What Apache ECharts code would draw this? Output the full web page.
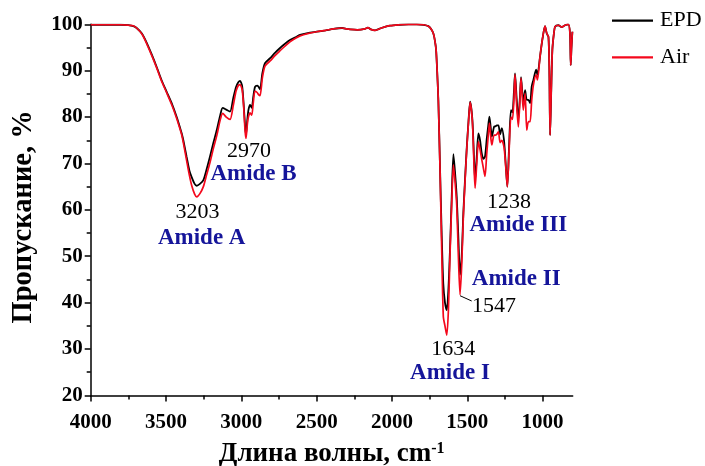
<!DOCTYPE html>
<html>
<head>
<meta charset="utf-8">
<script src="https://cdn.jsdelivr.net/npm/echarts@6/dist/echarts.min.js"></script>
<style>
  html, body { margin: 0; padding: 0; background: #fff; }
  #chart { width: 705px; height: 466px; }
</style>
</head>
<body>
<div id="chart"></div>
<script>
// FTIR spectra: wavenumber (cm-1) and transmittance (%) of the two samples
const wavenumber = [
  4000, 3900, 3800, 3750, 3717, 3695, 3660, 3628, 3595, 3562, 3530, 3495, 3460, 3429, 3405, 3396,
  3385, 3363, 3345, 3329, 3310, 3296, 3275, 3252, 3230, 3208, 3185, 3163, 3140, 3124, 3100, 3075,
  3053, 3035, 3020, 3009, 2995, 2985, 2975, 2969, 2960, 2953, 2942, 2931, 2920, 2909, 2895, 2887,
  2876, 2860, 2843, 2809, 2775, 2743, 2710, 2677, 2640, 2610, 2560, 2500, 2440, 2389, 2330, 2300,
  2278, 2230, 2180, 2160, 2140, 2112, 2070, 2013, 1950, 1890, 1835, 1790, 1758, 1740, 1725, 1715,
  1707, 1700, 1692, 1681, 1670, 1659, 1648, 1636, 1625, 1614, 1603, 1592, 1581, 1570, 1559, 1548,
  1537, 1526, 1515, 1503, 1492, 1481, 1466, 1455, 1448, 1437, 1426, 1415, 1404, 1393, 1382, 1371,
  1362, 1353, 1345, 1337, 1322, 1313, 1304, 1293, 1282, 1271, 1256, 1245, 1234, 1222, 1210, 1200,
  1190, 1183, 1172, 1161, 1150, 1143, 1128, 1116, 1105, 1094, 1083, 1072, 1061, 1043, 1034, 1017,
  1000, 984, 972, 961, 955, 950, 943, 935, 925, 917, 895, 873, 851, 829, 818, 813,
  808, 802
];

const transEPD = [
  99.9, 99.9, 99.9, 99.8, 99.6, 99.2, 98.0, 96.0, 93.5, 90.8, 88.0, 85.4, 82.8, 80.0, 77.5, 76.5,
  75.0, 71.4, 68.5, 67.0, 65.6, 65.2, 65.6, 66.4, 68.8, 71.5, 74.5, 77.2, 80.4, 82.0, 81.6, 81.2,
  84.2, 86.5, 87.5, 87.8, 86.8, 83.0, 78.0, 76.2, 79.5, 81.5, 82.6, 82.0, 84.5, 86.5, 86.8, 86.6,
  86.0, 89.5, 91.6, 92.7, 93.9, 94.9, 95.8, 96.6, 97.2, 97.7, 98.1, 98.4, 98.7, 99.0, 99.2, 99.0,
  98.9, 98.8, 99.0, 99.3, 98.9, 98.7, 99.2, 99.7, 99.9, 100.0, 100.0, 99.9, 99.6, 99.0, 98.0, 96.5,
  94.5, 90.0, 83.7, 69.3, 55.0, 44.0, 40.0, 38.4, 43.0, 52.1, 63.0, 72.0, 68.0, 62.8, 54.0, 46.0,
  50.0, 59.3, 66.5, 73.6, 79.0, 83.3, 79.4, 71.0, 66.4, 71.5, 76.5, 75.0, 72.2, 71.0, 71.5, 75.2,
  77.8, 80.1, 78.0, 75.8, 77.9, 78.0, 78.2, 78.2, 76.3, 77.6, 75.0, 70.0, 65.0, 74.0, 81.5, 81.0,
  85.5, 89.4, 84.0, 79.4, 84.5, 88.6, 83.3, 85.8, 83.7, 83.7, 83.0, 86.6, 88.0, 90.2, 89.1, 93.0,
  97.0, 99.6, 98.0, 97.3, 90.0, 76.1, 85.0, 94.5, 98.0, 99.5, 99.8, 99.4, 99.8, 100.0, 98.0, 91.2,
  95.0, 98.4
];

const transAir = [
  99.9, 99.9, 99.9, 99.8, 99.7, 99.2, 97.9, 95.8, 93.3, 90.6, 87.8, 85.2, 82.5, 79.7, 77.2, 76.2,
  74.5, 70.6, 67.5, 65.2, 63.4, 62.8, 63.5, 65.0, 67.6, 70.2, 73.3, 76.0, 79.4, 80.8, 80.0, 79.5,
  82.6, 85.6, 86.8, 87.0, 86.0, 82.5, 77.0, 75.4, 78.5, 80.0, 80.9, 80.4, 83.3, 85.6, 85.3, 84.9,
  84.6, 88.5, 91.0, 92.1, 93.3, 94.3, 95.3, 96.2, 97.0, 97.5, 98.0, 98.4, 98.7, 99.0, 99.2, 99.0,
  98.9, 98.8, 99.0, 99.3, 98.9, 98.7, 99.2, 99.7, 99.9, 100.0, 100.0, 99.9, 99.6, 99.0, 98.0, 96.5,
  94.5, 90.0, 83.5, 69.0, 52.0, 37.0, 35.0, 33.0, 38.5, 51.0, 61.5, 69.7, 66.0, 61.0, 50.0, 41.7,
  48.0, 58.5, 66.0, 73.3, 78.8, 83.2, 79.0, 69.5, 64.7, 70.0, 74.7, 73.0, 70.9, 69.0, 67.2, 72.0,
  75.5, 78.7, 76.0, 74.0, 76.1, 76.1, 76.3, 76.8, 74.5, 75.0, 73.5, 69.5, 65.0, 73.0, 80.0, 79.5,
  84.0, 89.2, 82.5, 77.9, 84.0, 88.4, 81.5, 85.1, 77.2, 79.0, 79.0, 83.7, 86.9, 89.1, 88.0, 93.0,
  97.0, 99.6, 98.0, 97.3, 90.0, 76.1, 85.0, 94.5, 98.0, 99.5, 99.8, 99.4, 99.8, 100.0, 98.0, 91.2,
  95.0, 98.4
];

const xMajorTicks = [1000, 1500, 2000, 2500, 3000, 3500, 4000];
const xMinorTicks = [1250, 1750, 2250, 2750, 3250, 3750];

// Band assignments written next to the spectrum
const bandLabels = [
  { text: '3203', kind: 'num', x: 197.5, y: 212 },
  { text: 'Amide A', kind: 'name', x: 201.7, y: 238 },
  { text: '2970', kind: 'num', x: 249, y: 151 },
  { text: 'Amide B', kind: 'name', x: 253.5, y: 174 },
  { text: '1238', kind: 'num', x: 509, y: 202 },
  { text: 'Amide III', kind: 'name', x: 518.3, y: 225 },
  { text: 'Amide II', kind: 'name', x: 516.2, y: 279.5 },
  { text: '1547', kind: 'num', x: 494, y: 306 },
  { text: '1634', kind: 'num', x: 453.3, y: 349.5 },
  { text: 'Amide I', kind: 'name', x: 450, y: 373.5 }
];

const serif = '"Liberation Serif", "Times New Roman", serif';
const pairs = (ys) => wavenumber.map((w, i) => [w, ys[i]]);

const chart = echarts.init(document.getElementById('chart'), null, { renderer: 'canvas' });

const grid = { left: 90.7, right: 132.3, top: 24.3, bottom: 70.6, outerBoundsMode: 'none', containLabel: false };

const commonX = {
  type: 'value',
  inverse: true,
  min: 800,
  max: 4000,
  gridIndex: 0,
  position: 'bottom',
  splitLine: { show: false }
};

const graphics = bandLabels.map((b) => ({
  type: 'text',
  x: b.x,
  y: b.y,
  z: 100,
  style: {
    text: b.text,
    font: b.kind === 'num' ? 'normal 22px ' + serif : 'bold 23px ' + serif,
    fill: b.kind === 'num' ? '#000' : '#15159a',
    align: 'center',
    verticalAlign: 'middle'
  }
}));

// leader from the 1547 band to its number
graphics.push({
  type: 'line',
  z: 100,
  shape: { x1: 460, y1: 295.7, x2: 471.7, y2: 301 },
  style: { stroke: '#000', lineWidth: 1 }
});

chart.setOption({
  animation: false,
  backgroundColor: '#fff',
  grid: grid,
  legend: {
    orient: 'vertical',
    left: 612,
    top: 9.7,
    padding: 0,
    icon: 'rect',
    itemWidth: 41,
    itemHeight: 2.2,
    itemGap: 14.6,
    textStyle: { fontFamily: serif, fontSize: 22, color: '#000', lineHeight: 22, padding: [0, 0, 0, 2] },
    data: ['EPD', 'Air']
  },
  xAxis: [
    Object.assign({}, commonX, {
      name: 'Длина волны, cm{sup|-1}',
      nameLocation: 'middle',
      nameGap: 45,
      nameTextStyle: {
        fontFamily: serif, fontSize: 27, fontWeight: 'bold', color: '#000',
        rich: {
          sup: { fontFamily: serif, fontSize: 16, fontWeight: 'bold', color: '#000', verticalAlign: 'top', padding: [0, 0, 12, 0] }
        }
      },
      axisLine: { show: true, lineStyle: { color: '#000', width: 1.5 } },
      axisTick: { show: true, inside: false, length: 6, customValues: xMajorTicks, lineStyle: { color: '#000', width: 1.5 } },
      axisLabel: {
        customValues: xMajorTicks, margin: 17,
        formatter: (v) => String(v),
        fontFamily: serif, fontSize: 21, fontWeight: 'bold', color: '#000'
      },
      minorTick: { show: false }
    }),
    Object.assign({}, commonX, {
      axisLine: { show: false },
      axisTick: { show: true, inside: false, length: 4, customValues: xMinorTicks, lineStyle: { color: '#000', width: 1.5 } },
      axisLabel: { show: false },
      minorTick: { show: false }
    })
  ],
  yAxis: {
    type: 'value',
    min: 20,
    max: 100,
    interval: 10,
    name: 'Пропускание, %',
    nameLocation: 'middle',
    nameGap: 53,
    nameTextStyle: { fontFamily: serif, fontSize: 28.5, fontWeight: 'bold', color: '#000', padding: [0, 14, 0, 0] },
    axisLine: { show: true, lineStyle: { color: '#000', width: 1.5 } },
    axisTick: { show: true, inside: false, length: 6, lineStyle: { color: '#000', width: 1.5 } },
    minorTick: { show: true, splitNumber: 2, length: 4, lineStyle: { color: '#000', width: 1.5 } },
    axisLabel: { margin: 8, fontFamily: serif, fontSize: 21, fontWeight: 'bold', color: '#000' },
    splitLine: { show: false }
  },
  series: [
    {
      name: 'EPD',
      type: 'line',
      xAxisIndex: 0,
      data: pairs(transEPD),
      symbol: 'none',
      smooth: 0.25,
      lineStyle: { color: '#000', width: 1.8 },
      itemStyle: { color: '#000' },
      z: 2
    },
    {
      name: 'Air',
      type: 'line',
      xAxisIndex: 0,
      data: pairs(transAir),
      symbol: 'none',
      smooth: 0.25,
      lineStyle: { color: '#f4081c', width: 1.7 },
      itemStyle: { color: '#f4081c' },
      z: 3
    }
  ],
  graphic: graphics
});
</script>
</body>
</html>
